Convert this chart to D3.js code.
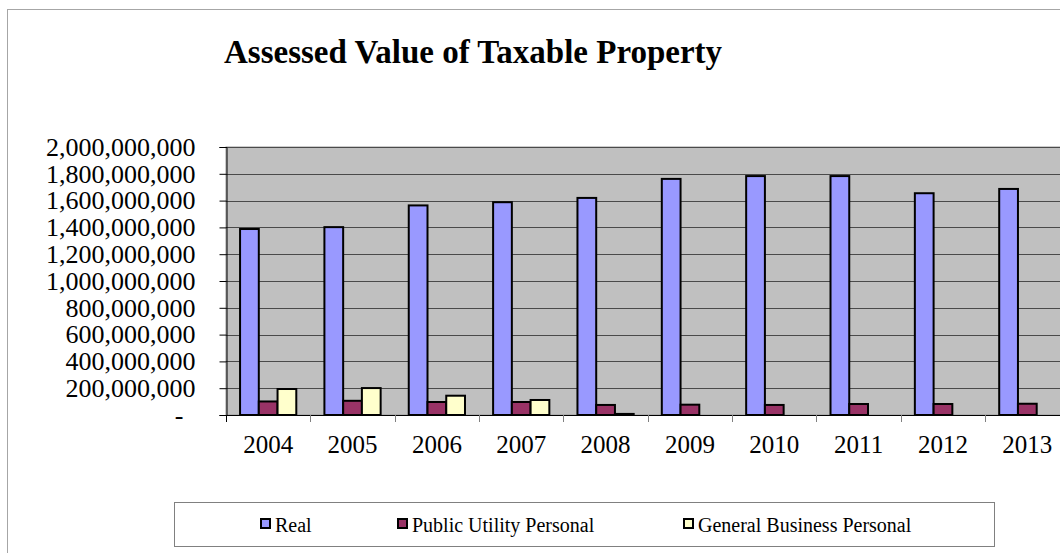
<!DOCTYPE html>
<html>
<head>
<meta charset="utf-8">
<script src="https://cdn.jsdelivr.net/npm/d3@7"></script>
<style>
  body { margin: 0; background: #fff; }
  svg { display: block; }
  svg text { font-family: "Liberation Serif", "Times New Roman", serif; }
</style>
</head>
<body>
<div id="chart"></div>
<script>
// données
const years = ["2004", "2005", "2006", "2007", "2008", "2009", "2010", "2011", "2012", "2013"];
const seriesNames = ["Real", "Public Utility Personal", "General Business Personal"];
const realValues = [1388e6, 1402e6, 1564e6, 1588e6, 1620e6, 1762e6, 1783e6, 1783e6, 1655e6, 1687e6];
const publicUtilityValues = [101e6, 106e6, 97e6, 97e6, 75e6, 77e6, 75e6, 82e6, 82e6, 84e6];
const generalBusinessValues = [194e6, 201e6, 144e6, 112e6, 8e6, 0, 0, 0, 0, 0];
const yTicks = [0, 2e8, 4e8, 6e8, 8e8, 1e9, 1.2e9, 1.4e9, 1.6e9, 1.8e9, 2e9];

const width = 1060, height = 553;
const plot = { left: 226, right: 1069.5, top: 147, bottom: 415 };
const colors = ["#9999FF", "#993366", "#FFFFCC"];
const serif = "'Liberation Serif', 'Times New Roman', serif";

const svg = d3.select("#chart").append("svg")
  .attr("width", width)
  .attr("height", height);

// cadre extérieur du graphique
svg.append("rect")
  .attr("x", 7.5).attr("y", 9.5)
  .attr("width", width + 20).attr("height", height + 20)
  .attr("fill", "#fff")
  .attr("stroke", "#a6a6a6");

// titre
svg.append("text")
  .attr("x", 224)
  .attr("y", 63)
  .style("font-family", serif)
  .style("font-size", "33px")
  .style("font-weight", "bold")
  .text("Assessed Value of Taxable Property");

const x = d3.scaleBand().domain(years).range([plot.left, plot.right]).padding(0);
const bw = x.bandwidth();
const barW = bw / 4.5; // largeur d'intervalle 150 %
const xs = d3.scaleBand().domain(seriesNames)
  .range([bw * 0.75 / 4.5, bw * 0.75 / 4.5 + barW * 3]).padding(0);
const y = d3.scaleLinear().domain([0, 2e9]).range([plot.bottom, plot.top]);

// fond de la zone de traçage
svg.append("rect")
  .attr("x", plot.left).attr("y", plot.top)
  .attr("width", plot.right - plot.left).attr("height", plot.bottom - plot.top)
  .attr("fill", "#C0C0C0")
  .attr("stroke", "#999");

// quadrillage
svg.append("g").selectAll("line")
  .data(yTicks.filter(d => d > 0))
  .enter().append("line")
  .attr("x1", plot.left).attr("x2", plot.right)
  .attr("y1", d => Math.round(y(d)) + 0.5).attr("y2", d => Math.round(y(d)) + 0.5)
  .attr("stroke", "#4a4a4a");

// axe Y
const fmt = d3.format(",");
const yAxis = svg.append("g")
  .attr("transform", `translate(${plot.left + 0.5},0)`)
  .call(d3.axisLeft(y).tickValues(yTicks).tickSize(7).tickPadding(24)
    .tickFormat(d => d === 0 ? "-" : fmt(d)));
yAxis.select(".domain").attr("stroke", "#000");
yAxis.selectAll(".tick line").attr("stroke", "#000");
yAxis.selectAll(".tick text")
  .style("font-size", "26px")
  .style("font-family", serif)
  .attr("fill", "#000")
  .attr("dx", d => d === 0 ? -12 : 0);

// barres
const series = [realValues, publicUtilityValues, generalBusinessValues];
const barData = [];
years.forEach((yr, i) => {
  seriesNames.forEach((s, j) => {
    barData.push({ year: yr, name: s, value: series[j][i], color: colors[j] });
  });
});

svg.append("g").selectAll("rect")
  .data(barData.filter(d => d.value > 0))
  .enter().append("rect")
  .attr("x", d => x(d.year) + xs(d.name))
  .attr("y", d => y(d.value))
  .attr("width", barW)
  .attr("height", d => y(0) - y(d.value))
  .attr("fill", d => d.color)
  .attr("stroke", "#000")
  .attr("stroke-width", 2);

// axe X
const xAxis = svg.append("g")
  .attr("transform", `translate(0,${plot.bottom})`)
  .call(d3.axisBottom(x).tickSize(0).tickPadding(20));
xAxis.select(".domain").remove();
xAxis.selectAll(".tick text")
  .style("font-size", "25px")
  .style("font-family", serif)
  .attr("fill", "#000");

svg.append("line")
  .attr("x1", plot.left).attr("x2", plot.right)
  .attr("y1", plot.bottom + 0.5).attr("y2", plot.bottom + 0.5)
  .attr("stroke", "#000");

svg.append("g").selectAll("line")
  .data(years.slice(1))
  .enter().append("line")
  .attr("x1", d => Math.round(x(d)) + 0.5).attr("x2", d => Math.round(x(d)) + 0.5)
  .attr("y1", plot.bottom).attr("y2", plot.bottom + 7)
  .attr("stroke", "#808080");

svg.append("line")
  .attr("x1", plot.left + 0.5).attr("x2", plot.left + 0.5)
  .attr("y1", plot.bottom).attr("y2", plot.bottom + 7)
  .attr("stroke", "#000");

// légende
svg.append("rect")
  .attr("x", 174.5).attr("y", 502.5)
  .attr("width", 820).attr("height", 44)
  .attr("fill", "#fff")
  .attr("stroke", "#808080");

const legendX = [261, 398, 684];
const legend = svg.append("g").selectAll("g")
  .data(seriesNames)
  .enter().append("g")
  .attr("transform", (d, i) => `translate(${legendX[i]},524)`);

legend.append("rect")
  .attr("x", 0).attr("y", -5)
  .attr("width", 9).attr("height", 9)
  .attr("fill", (d, i) => colors[i])
  .attr("stroke", "#000")
  .attr("stroke-width", 2);

legend.append("text")
  .attr("x", 14)
  .attr("y", 7.5)
  .style("font-family", serif)
  .style("font-size", "20px")
  .text(d => d);
</script>
</body>
</html>
